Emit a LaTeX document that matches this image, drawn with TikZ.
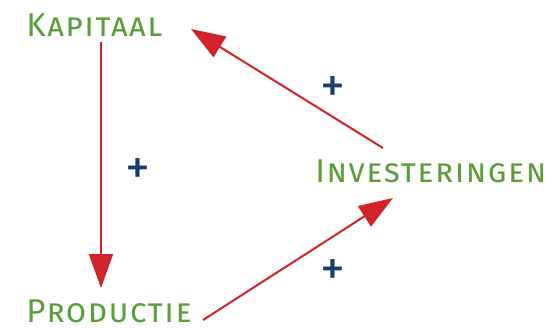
\documentclass[tikz,border=0pt]{standalone}
\usepackage{fontspec}
\setmainfont{Fira Sans}
\usetikzlibrary{arrows.meta}
\definecolor{groen}{RGB}{90,158,58}
\definecolor{rood}{RGB}{210,34,42}
\definecolor{blauw}{RGB}{24,62,110}
\tikzset{
  begrip/.style={text=groen, inner sep=0pt, font=\fontsize{16.5}{18}\selectfont\addfontfeatures{LetterSpace=4.5}\scshape},
  pijl/.style={rood, line width=1pt, -{Triangle[length=17pt,width=12pt]}},
  teken/.style={text=blauw, inner sep=0pt, font=\fontsize{25}{26}\selectfont}
}
\begin{document}
\begin{tikzpicture}[x=0.5pt, y=-0.5pt]
            \useasboundingbox (0, 0) rectangle (554, 328);
            \node[begrip, anchor=base west] (kap) at (26, 36) {Kapitaal};
            \node[begrip, anchor=base west] (inv) at (315, 182) {Investeringen};
            \node[begrip, anchor=base west] (prod) at (26, 322) {Productie};
            \node[teken] (p1) at (138, 172) {+};
            \node[teken] (p2) at (333, 90) {+};
            \node[teken] (p3) at (333, 273) {+};
            \draw[pijl] ([shift={(75, 6)}]kap.base west) -- ([shift={(75, -34)}]prod.base west);
            \draw[pijl] ([shift={(68, -34)}]inv.base west) -- ([shift={(165, -7)}]kap.base west);
            \draw[pijl] ([shift={(177, -2)}]prod.base west) -- ([shift={(78, 16)}]inv.base west);
        \end{tikzpicture}
\end{document}
